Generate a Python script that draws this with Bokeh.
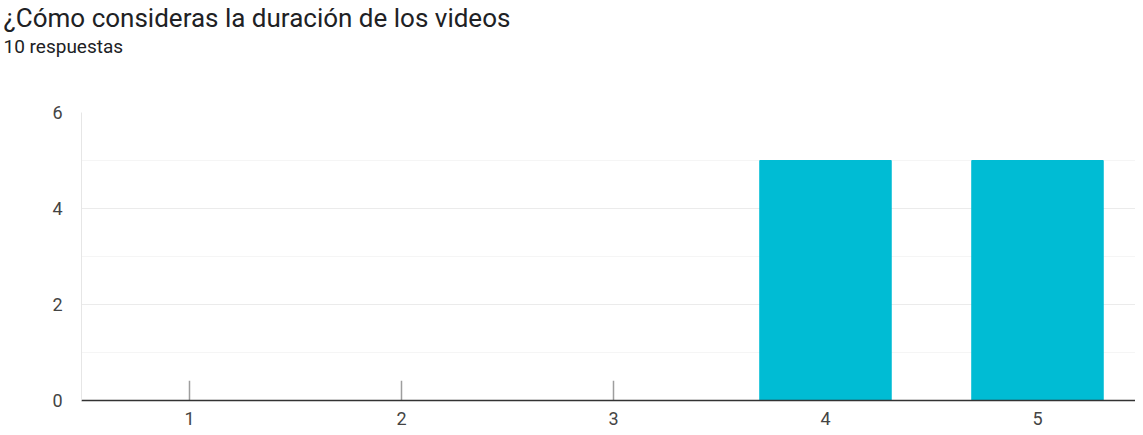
from bokeh.plotting import figure
from bokeh.models import Range1d, FixedTicker, Title
from bokeh.embed import file_html
from bokeh.resources import INLINE

title_text = "¿Cómo consideras la duración de los videos"
subtitle_text = "10 respuestas"
categories = [1, 2, 3, 4, 5]
counts = [0, 0, 0, 5, 5]
y_ticks = [0, 2, 4, 6]
y_minor = [1, 3, 5]

FONT = "Roboto"
BAR = "#00bcd4"

p = figure(width=1135, height=427, output_backend="svg", toolbar_location=None,
           x_range=Range1d(0.4906, 5.4623), y_range=Range1d(0, 6),
           min_border_left=81, min_border_right=0, min_border_top=0, min_border_bottom=0)
p.outline_line_color = None

bars_x = [c for c, v in zip(categories, counts) if v > 0]
bars_top = [v for v in counts if v > 0]
p.vbar(x=bars_x, top=bars_top, width=0.62, bottom=0, color=BAR, line_color=BAR)

zero_x = [c for c, v in zip(categories, counts) if v == 0]
p.segment(x0=zero_x, y0=[0] * len(zero_x), x1=zero_x, y1=[0.41] * len(zero_x),
          line_color="#9e9e9e", line_width=1.5)

p.xgrid.grid_line_color = None
p.ygrid.grid_line_color = "#ebebeb"
p.ygrid.grid_line_width = 1
p.ygrid.minor_grid_line_color = "#f5f5f5"
p.yaxis.ticker = FixedTicker(ticks=y_ticks, minor_ticks=y_minor)
p.xaxis.ticker = FixedTicker(ticks=categories)

for ax in (p.xaxis, p.yaxis):
    ax.major_tick_out = 0
    ax.major_tick_in = 0
    ax.minor_tick_out = 0
    ax.minor_tick_in = 0
    ax.major_tick_line_color = None
    ax.minor_tick_line_color = None
    ax.major_label_text_font = FONT
    ax.major_label_text_font_size = "18px"
    ax.major_label_text_color = "#444444"

p.yaxis.axis_line_color = "#e6e6e6"
p.yaxis.major_label_standoff = 19

p.xaxis.axis_line_color = "#333333"
p.xaxis.axis_line_width = 1.5
p.xaxis.major_label_standoff = 11

spacer = Title(text=" ", align="left", offset=-78, standoff=0,
               text_font=FONT, text_font_size="45px", text_color="#ffffff")
p.add_layout(spacer, "above")
sub = Title(text=subtitle_text, align="left", offset=-78, standoff=0,
            text_font=FONT, text_font_size="19px", text_font_style="normal",
            text_color="#202124")
p.add_layout(sub, "above")
main = Title(text=title_text, align="left", offset=-78, standoff=0,
             text_font=FONT, text_font_size="26px", text_font_style="normal",
             text_color="#202124")
p.add_layout(main, "above")

open("out.html", "w").write(file_html(p, INLINE))
